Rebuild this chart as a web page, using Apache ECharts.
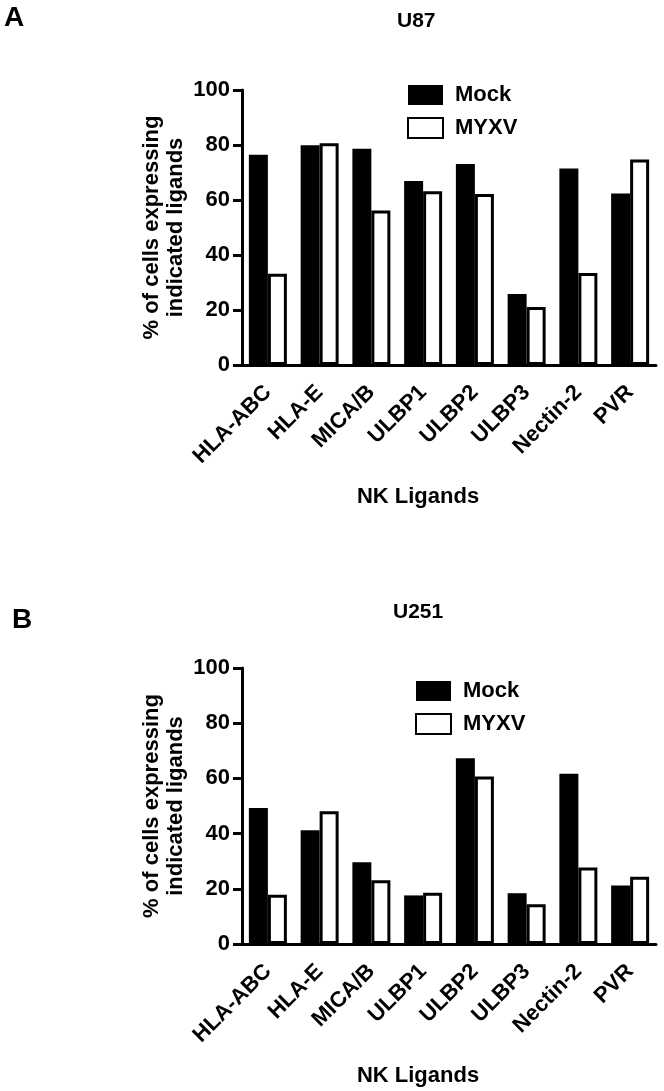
<!DOCTYPE html>
<html>
<head>
<meta charset="utf-8">
<script src="https://cdn.jsdelivr.net/npm/echarts@6/dist/echarts.min.js"></script>
<style>html,body{margin:0;padding:0;background:#fff;}#c{width:664px;height:1091px;}</style>
</head>
<body>
<div id="c"></div>
<script>
const categories = ['HLA-ABC', 'HLA-E', 'MICA/B', 'ULBP1', 'ULBP2', 'ULBP3', 'Nectin-2', 'PVR'];
const u87Mock = [76.5, 79.9, 78.6, 66.9, 73.1, 25.8, 71.5, 62.4];
const u87Myxv = [33.2, 80.6, 56.2, 63.2, 62.2, 21.1, 33.5, 74.7];
const u251Mock = [49.3, 41.2, 29.6, 17.6, 67.3, 18.4, 61.7, 21.2];
const u251Myxv = [17.8, 48.1, 23.1, 18.6, 60.7, 14.4, 27.7, 24.4];
const yTicks = { min: 0, max: 100, interval: 20 };
const seriesNames = ['Mock', 'MYXV'];
const panelTitles = ['U87', 'U251'];
const panelLetters = ['A', 'B'];
const yName = '% of cells expressing\nindicated ligands';
const xName = 'NK Ligands';

const FONT = "'Liberation Sans', Arial, sans-serif";
const chart = echarts.init(document.getElementById('c'), null, { renderer: 'canvas' });

function xAxis(gi) {
  return {
    type: 'category', gridIndex: gi, data: categories,
    axisLine: { lineStyle: { color: '#000', width: 3 } },
    axisTick: { alignWithLabel: true, length: 9, lineStyle: { color: '#000', width: 3 } },
    axisLabel: { rotate: 45, margin: 24, color: '#000', fontSize: 22, fontWeight: 'bold', fontFamily: FONT, interval: 0 },
    name: xName, nameLocation: 'middle', nameGap: 121, nameMoveOverlap: false,
    nameTextStyle: { color: '#000', fontSize: 22, fontWeight: 'bold', fontFamily: FONT, padding: [0, 62, 0, 0] }
  };
}
function yAxis(gi) {
  return {
    type: 'value', gridIndex: gi, min: yTicks.min, max: yTicks.max, interval: yTicks.interval,
    splitLine: { show: false },
    axisLine: { show: true, lineStyle: { color: '#000', width: 3 } },
    axisTick: { show: true, length: 9, lineStyle: { color: '#000', width: 3 } },
    axisLabel: { margin: 12, color: '#000', fontSize: 22, fontWeight: 'bold', fontFamily: FONT },
    name: yName, nameLocation: 'middle', nameGap: 54, nameRotate: 90, nameMoveOverlap: false,
    nameTextStyle: { color: '#000', fontSize: 22, fontWeight: 'bold', fontFamily: FONT, lineHeight: 24 }
  };
}
function bars(name, data, gi) {
  const isMock = name === 'Mock';
  return {
    type: 'bar', name: name, xAxisIndex: gi, yAxisIndex: gi, data: data,
    barWidth: 19, barGap: '0%',
    itemStyle: isMock ? { color: '#000' } : { color: '#fff', borderColor: '#000', borderWidth: 3 },
    emphasis: { disabled: true }
  };
}
function legend(left, top) {
  return {
    data: seriesNames, orient: 'vertical', left: left, top: top,
    itemWidth: 35, itemHeight: 20, itemGap: 11, icon: 'rect',
    textStyle: { color: '#000', fontSize: 22, fontWeight: 'bold', fontFamily: FONT, padding: [0, 0, 0, 7] },
    selectedMode: false
  };
}

chart.setOption({
  animation: false,
  backgroundColor: '#fff',
  title: [
    { text: panelLetters[0], left: -1, top: -1, textStyle: { fontSize: 28, fontWeight: 'bold', color: '#000', fontFamily: FONT } },
    { text: panelTitles[0], left: 392, top: 6, textStyle: { fontSize: 21, fontWeight: 'bold', color: '#000', fontFamily: FONT } },
    { text: panelLetters[1], left: 7, top: 601, textStyle: { fontSize: 28, fontWeight: 'bold', color: '#000', fontFamily: FONT } },
    { text: panelTitles[1], left: 388, top: 597, textStyle: { fontSize: 21, fontWeight: 'bold', color: '#000', fontFamily: FONT } }
  ],
  legend: [legend(402, 79), legend(410, 675)],
  grid: [
    { left: 242, top: 90, width: 414, height: 275 },
    { left: 242, top: 668, width: 414, height: 276 }
  ],
  xAxis: [xAxis(0), xAxis(1)],
  yAxis: [yAxis(0), yAxis(1)],
  series: [
    bars('Mock', u87Mock, 0), bars('MYXV', u87Myxv, 0),
    bars('Mock', u251Mock, 1), bars('MYXV', u251Myxv, 1)
  ]
});
</script>
</body>
</html>
